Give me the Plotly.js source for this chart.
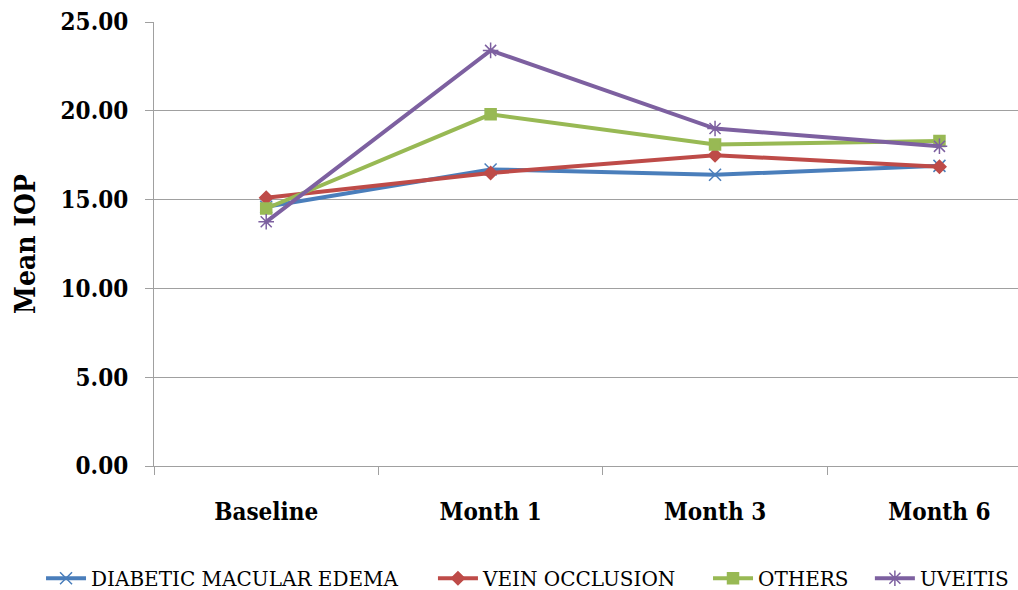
<!DOCTYPE html>
<html>
<head>
<meta charset="utf-8">
<script src="https://cdn.plot.ly/plotly-3.0.1.min.js"></script>
<style>html,body{margin:0;padding:0;background:#fff;}#chart{width:1018px;height:590px;}</style>
</head>
<body>
<div id="chart"></div>
<script>
const categories = ["Baseline", "Month 1", "Month 3", "Month 6"];
const seriesNames = ["DIABETIC MACULAR EDEMA", "VEIN OCCLUSION", "OTHERS", "UVEITIS"];
const dme = [14.6, 16.7, 16.4, 16.9];
const veinOcclusion = [15.1, 16.5, 17.5, 16.85];
const others = [14.5, 19.8, 18.1, 18.3];
const uveitis = [13.75, 23.4, 19.0, 18.0];
const yTicks = [0, 5, 10, 15, 20, 25];
const yTickLabels = ["0.00", "5.00", "10.00", "15.00", "20.00", "25.00"];

const styles = [
  {color: "#4a7ebb", symbol: "x-thin-open", size: 12},
  {color: "#be4b48", symbol: "diamond", size: 10},
  {color: "#98b954", symbol: "square", size: 11},
  {color: "#7d60a0", symbol: "asterisk-open", size: 13}
];
const values = [dme, veinOcclusion, others, uveitis];
const legendIds = ["legend", "legend2", "legend3", "legend4"];
const legendX = [0.0403, 0.4253, 0.6955, 0.8545];

const traces = values.map((v, i) => ({
  type: "scatter",
  mode: "lines+markers",
  x: categories,
  y: v,
  name: seriesNames[i],
  legend: legendIds[i],
  line: {color: styles[i].color, width: 4},
  marker: {color: styles[i].color, symbol: styles[i].symbol, size: styles[i].size,
           line: {color: styles[i].color, width: 1.5}}
}));

const serif = "DejaVu Serif Condensed, DejaVu Serif";
const layout = {
  width: 1018, height: 590,
  margin: {l: 154, r: 0, t: 22, b: 124},
  paper_bgcolor: "#fff", plot_bgcolor: "#fff",
  font: {family: serif},
  showlegend: true,
  xaxis: {
    type: "category",
    range: [-0.5, 3.35],
    showgrid: false,
    showline: true, linecolor: "#a0a0a0", linewidth: 1,
    ticks: "outside", tickson: "boundaries", ticklen: 8, tickcolor: "#a0a0a0",
    ticklabelstandoff: 24,
    tickfont: {family: serif, size: 24, color: "#000", weight: "bold"},
    zeroline: false, fixedrange: true
  },
  yaxis: {
    range: [0, 25],
    tickvals: yTicks, ticktext: yTickLabels,
    showgrid: true, gridcolor: "#a0a0a0", gridwidth: 1,
    showline: true, linecolor: "#a0a0a0", linewidth: 1,
    ticks: "outside", ticklen: 8, tickcolor: "#a0a0a0",
    ticklabelstandoff: 12,
    tickfont: {family: serif, size: 24, color: "#000", weight: "bold"},
    title: {text: "Mean IOP", font: {family: serif, size: 28, color: "#000", weight: "bold"}, standoff: 16},
    zeroline: false, fixedrange: true
  }
};
legendIds.forEach((id, i) => {
  layout[id] = {
    orientation: "h", xref: "container", yref: "container",
    x: legendX[i], xanchor: "left", y: 0.02, yanchor: "middle",
    font: {family: "DejaVu Serif", size: 20, color: "#000"},
    bgcolor: "rgba(0,0,0,0)", itemwidth: 40
  };
});

Plotly.newPlot("chart", traces, layout, {displayModeBar: false, staticPlot: true});
</script>
</body>
</html>
